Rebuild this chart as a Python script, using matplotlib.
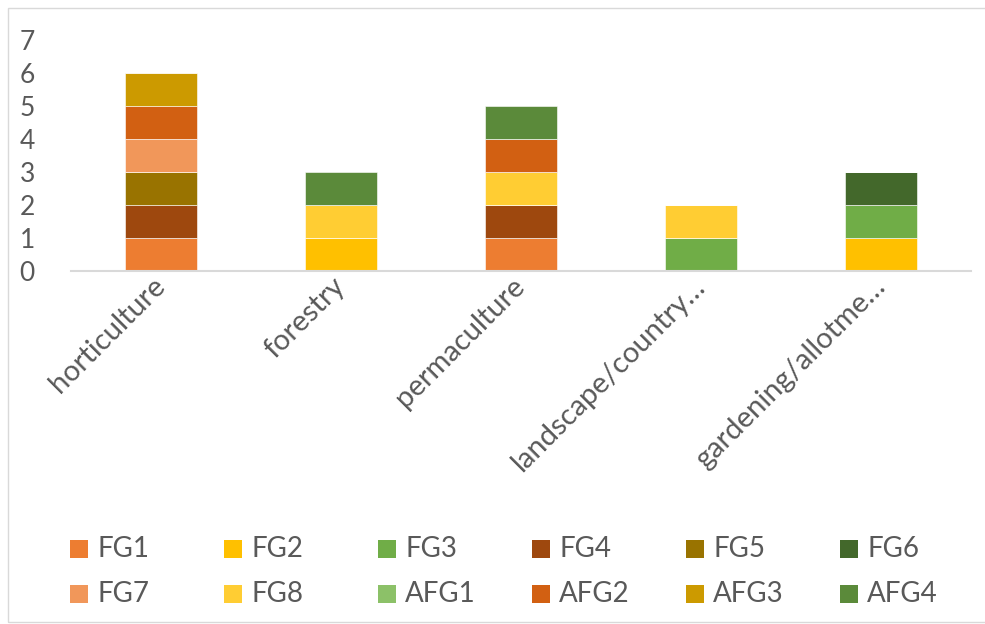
import numpy as np
import matplotlib
matplotlib.use("Agg")
import matplotlib.pyplot as plt
from matplotlib.patches import Rectangle

plt.rcParams['font.family'] = ['Lato', 'DejaVu Sans']

categories = ["horticulture", "forestry", "permaculture",
              "landscape/country\u2026", "gardening/allotme\u2026"]

series_names = ["FG1", "FG2", "FG3", "FG4", "FG5", "FG6",
                "FG7", "FG8", "AFG1", "AFG2", "AFG3", "AFG4"]

fg1 = [1, 0, 1, 0, 0]
fg2 = [0, 1, 0, 0, 1]
fg3 = [0, 0, 0, 1, 1]
fg4 = [1, 0, 1, 0, 0]
fg5 = [1, 0, 0, 0, 0]
fg6 = [0, 0, 0, 0, 1]
fg7 = [1, 0, 0, 0, 0]
fg8 = [0, 1, 1, 1, 0]
afg1 = [0, 0, 0, 0, 0]
afg2 = [1, 0, 1, 0, 0]
afg3 = [1, 0, 0, 0, 0]
afg4 = [0, 1, 1, 0, 0]

series_values = [fg1, fg2, fg3, fg4, fg5, fg6, fg7, fg8, afg1, afg2, afg3, afg4]

colors = ["#ED7D31", "#FFC000", "#70AD47", "#9E480E", "#997300", "#43682B",
          "#F1975A", "#FFCD33", "#8CC168", "#D26012", "#CC9A00", "#5B8A3A"]

text_color = "#595959"
W, H = 985, 624

fig = plt.figure(figsize=(W / 100, H / 100), dpi=100)
fig.patch.set_facecolor("white")

# chart frame
fig.add_artist(Rectangle((8 / W, 2 / H), 1.2, 1 - 10 / H, transform=fig.transFigure,
                         fill=False, edgecolor="#D9D9D9", linewidth=1))

ax = fig.add_axes([71 / W, 1 - 271 / H, 900 / W, 231 / H])

x = np.arange(len(categories))
bottom = np.zeros(len(categories))
for name, vals, col in zip(series_names, series_values, colors):
    vals = np.array(vals, dtype=float)
    ax.bar(x, vals, width=0.4, bottom=bottom, color=col, edgecolor="white",
           linewidth=0.4, label=name, zorder=2)
    bottom += vals

ax.set_xlim(-0.5, len(categories) - 0.5)
ax.set_ylim(0, 7)
ax.set_yticks(range(0, 8))
ax.tick_params(axis="y", length=0, labelsize=19, labelcolor=text_color, pad=26)
ax.tick_params(axis="x", length=0, pad=8)
ax.set_xticks(x)
ax.set_xticklabels(categories, rotation=45, ha="right", va="center",
                   rotation_mode="anchor", fontsize=21, color=text_color)

for s in ["top", "right", "left"]:
    ax.spines[s].set_visible(False)
ax.spines["bottom"].set_color("#D9D9D9")
ax.spines["bottom"].set_linewidth(1.5)

# legend laid out as in the original: 6 columns, 2 rows, row by row
for i, (name, col) in enumerate(zip(series_names, colors)):
    r, c = divmod(i, 6)
    px = 70 + 154 * c
    py = 549 + 45 * r
    fig.add_artist(Rectangle((px / W, 1 - (py + 9) / H), 18 / W, 18 / H,
                             transform=fig.transFigure, facecolor=col, edgecolor="none"))
    fig.text((px + 27) / W, 1 - py / H, name, fontsize=20, color=text_color,
             ha="left", va="center")

plt.savefig("out.png", dpi=100, facecolor="white")
plt.close()
